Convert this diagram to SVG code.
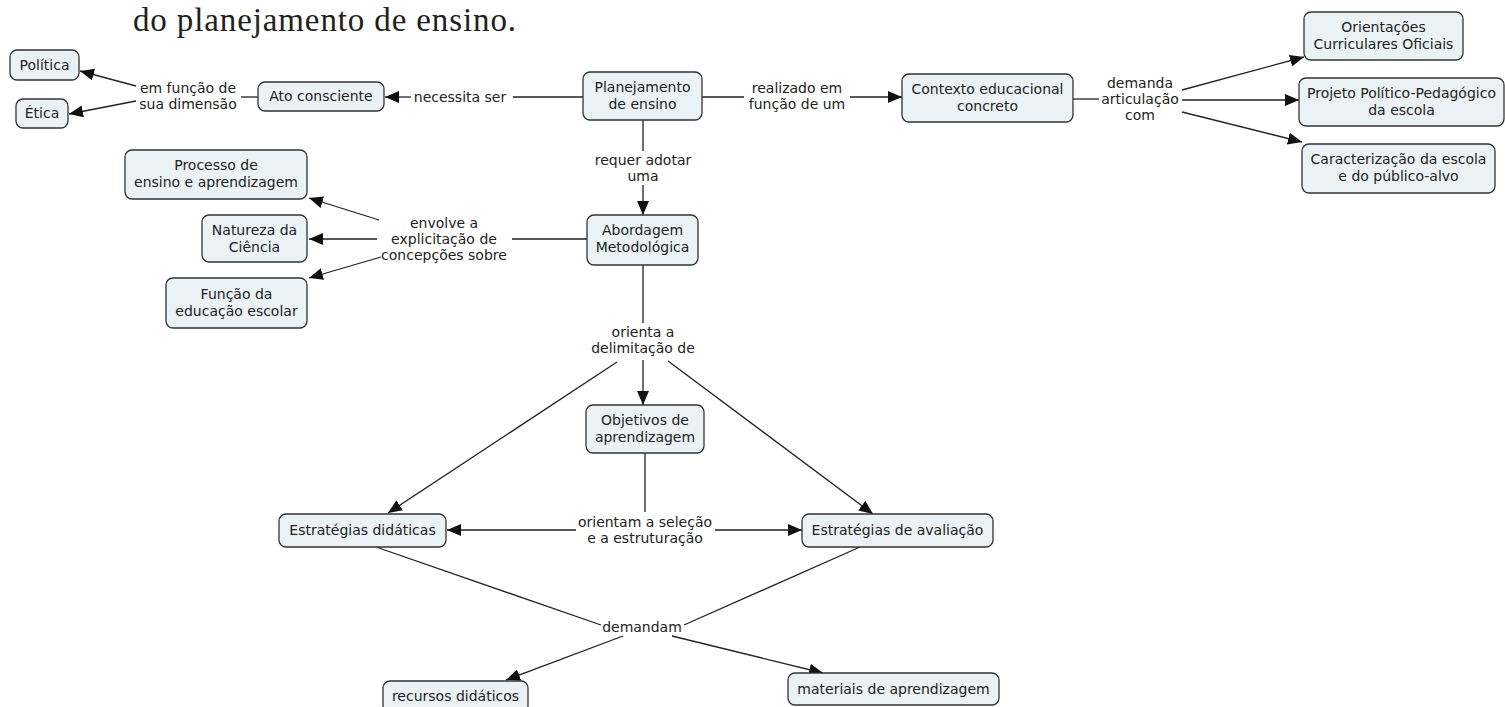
<svg xmlns="http://www.w3.org/2000/svg" width="1505" height="707" viewBox="0 0 1505 707">
<style>
.n rect{fill:#eaf2f6;stroke:#333;stroke-width:1.3}
.n text,.l text{font-family:"DejaVu Sans",Verdana,sans-serif;font-size:14px;fill:#222;text-anchor:middle}
.c line{stroke:#222;stroke-width:1.3}
.a{marker-end:url(#ah)}
</style>
<defs>
<marker id="ah" markerUnits="userSpaceOnUse" markerWidth="15" markerHeight="12" refX="14" refY="6" orient="auto"><path d="M0,0 L14,6 L0,12 z" fill="#111"/></marker>
</defs>
<rect width="1505" height="707" fill="#fff"/>
<text x="133" y="31" font-family="'Liberation Serif',serif" font-size="33" fill="#231f20" textLength="383" lengthAdjust="spacing">do planejamento de ensino.</text>

<g class="c">
<line x1="583" y1="97" x2="513" y2="97"/>
<line class="a" x1="411" y1="97" x2="385" y2="97"/>
<line x1="258" y1="97" x2="241" y2="97"/>
<line class="a" x1="136" y1="86" x2="80" y2="71"/>
<line class="a" x1="136" y1="101" x2="69" y2="114"/>
<line x1="702" y1="97" x2="744" y2="97"/>
<line class="a" x1="850" y1="97" x2="902" y2="97"/>
<line x1="1073" y1="99" x2="1099" y2="99"/>
<line class="a" x1="1182" y1="90" x2="1304" y2="57"/>
<line class="a" x1="1182" y1="100" x2="1299" y2="100"/>
<line class="a" x1="1182" y1="112" x2="1302" y2="142"/>
<line x1="643" y1="120" x2="643" y2="151"/>
<line class="a" x1="643" y1="185" x2="643" y2="215"/>
<line x1="587" y1="239" x2="512" y2="239"/>
<line class="a" x1="379" y1="220" x2="309" y2="198"/>
<line class="a" x1="377" y1="239" x2="309" y2="239"/>
<line class="a" x1="381" y1="257" x2="309" y2="278"/>
<line x1="643" y1="265" x2="643" y2="323"/>
<line class="a" x1="617" y1="362" x2="388" y2="513"/>
<line class="a" x1="643" y1="360" x2="643" y2="405"/>
<line class="a" x1="668" y1="361" x2="873" y2="514"/>
<line x1="645" y1="453" x2="645" y2="512"/>
<line class="a" x1="576" y1="530" x2="447" y2="530"/>
<line class="a" x1="715" y1="530" x2="802" y2="530"/>
<line x1="376" y1="547" x2="601" y2="625"/>
<line x1="860" y1="547" x2="684" y2="625"/>
<line class="a" x1="623" y1="636" x2="506" y2="680"/>
<line class="a" x1="672" y1="636" x2="823" y2="673"/>
</g>

<g class="l">
<text x="460" y="102">necessita ser</text>
<text x="188" y="93">em função de</text>
<text x="188" y="109">sua dimensão</text>
<text x="797" y="93">realizado em</text>
<text x="797" y="109">função de um</text>
<text x="1140" y="88">demanda</text>
<text x="1140" y="104">articulação</text>
<text x="1140" y="120">com</text>
<text x="643" y="165">requer adotar</text>
<text x="643" y="181">uma</text>
<text x="444" y="228">envolve a</text>
<text x="444" y="244">explicitação de</text>
<text x="444" y="260">concepções sobre</text>
<text x="643" y="337">orienta a</text>
<text x="643" y="353">delimitação de</text>
<text x="645" y="527">orientam a seleção</text>
<text x="645" y="543">e a estruturação</text>
<text x="642" y="632">demandam</text>
</g>

<g id="politica" class="n"><rect x="10" y="50" width="69" height="30" rx="7"/><text x="44.5" y="70">Política</text></g>
<g id="etica" class="n"><rect x="16" y="99" width="52" height="29" rx="7"/><text x="42" y="118">Ética</text></g>
<g id="ato" class="n"><rect x="258" y="82" width="126" height="29" rx="7"/><text x="321" y="101">Ato consciente</text></g>
<g id="planejamento" class="n"><rect x="583" y="72" width="119" height="48" rx="7"/><text x="642.5" y="92">Planejamento</text><text x="642.5" y="109">de ensino</text></g>
<g id="contexto" class="n"><rect x="902" y="74" width="171" height="48" rx="7"/><text x="987.5" y="94">Contexto educacional</text><text x="987.5" y="111">concreto</text></g>
<g id="orientacoes" class="n"><rect x="1304" y="12" width="159" height="48" rx="7"/><text x="1383.5" y="32">Orientações</text><text x="1383.5" y="49">Curriculares Oficiais</text></g>
<g id="projeto" class="n"><rect x="1299" y="78" width="205" height="48" rx="7"/><text x="1401.5" y="98">Projeto Político-Pedagógico</text><text x="1401.5" y="115">da escola</text></g>
<g id="caracterizacao" class="n"><rect x="1302" y="144" width="193" height="49" rx="7"/><text x="1398.5" y="164">Caracterização da escola</text><text x="1398.5" y="181">e do público-alvo</text></g>
<g id="abordagem" class="n"><rect x="587" y="215" width="111" height="50" rx="7"/><text x="642.5" y="235">Abordagem</text><text x="642.5" y="252">Metodológica</text></g>
<g id="processo" class="n"><rect x="125" y="150" width="182" height="49" rx="7"/><text x="216" y="170">Processo de</text><text x="216" y="187">ensino e aprendizagem</text></g>
<g id="natureza" class="n"><rect x="202" y="215" width="105" height="47" rx="7"/><text x="254.5" y="235">Natureza da</text><text x="254.5" y="252">Ciência</text></g>
<g id="funcao" class="n"><rect x="166" y="278" width="141" height="50" rx="7"/><text x="236.5" y="299">Função da</text><text x="236.5" y="316">educação escolar</text></g>
<g id="objetivos" class="n"><rect x="586" y="405" width="118" height="48" rx="7"/><text x="645" y="425">Objetivos de</text><text x="645" y="442">aprendizagem</text></g>
<g id="estrategias-didaticas" class="n"><rect x="279" y="514" width="167" height="33" rx="7"/><text x="362.5" y="535">Estratégias didáticas</text></g>
<g id="estrategias-avaliacao" class="n"><rect x="802" y="514" width="191" height="33" rx="7"/><text x="897.5" y="535">Estratégias de avaliação</text></g>
<g id="recursos" class="n"><rect x="383" y="681" width="145" height="32" rx="7"/><text x="455.5" y="701">recursos didáticos</text></g>
<g id="materiais" class="n"><rect x="788" y="673" width="211" height="32" rx="7"/><text x="893.5" y="694">materiais de aprendizagem</text></g>
</svg>
